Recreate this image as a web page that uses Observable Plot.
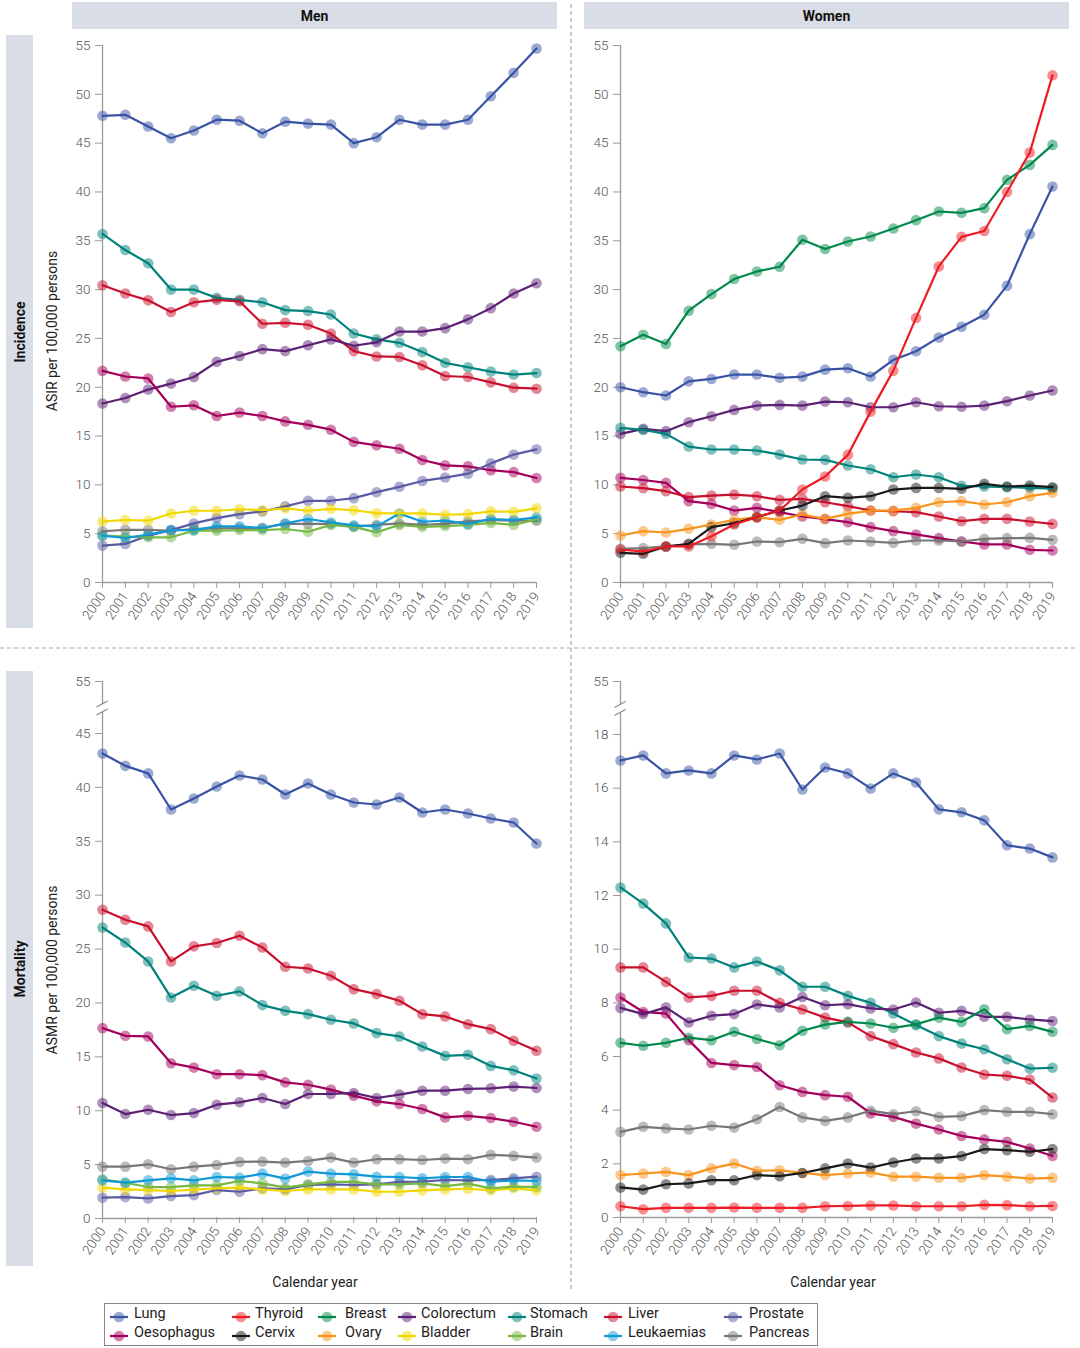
<!DOCTYPE html>
<html><head><meta charset="utf-8">
<script src="https://cdn.jsdelivr.net/npm/d3@7"></script>
<script src="https://cdn.jsdelivr.net/npm/@observablehq/plot@0.6"></script>
<style>
body{margin:0;background:#fff;font-family:Roboto,"Liberation Sans",sans-serif;}
#root{position:relative;width:1080px;height:1348px;overflow:hidden;background:#fff;}
.hdr{position:absolute;background:#d9dde6;font-weight:700;font-size:14px;color:#111;display:flex;align-items:center;justify-content:center;}
.rowlab{position:absolute;background:#d9dde6;}
.rowlab span{position:absolute;left:50%;top:50%;transform:translate(-50%,-50%) rotate(-90deg);font-weight:700;font-size:14px;white-space:nowrap;color:#111;}
.vlabel{position:absolute;transform:translate(-50%,-50%) rotate(-90deg);font-size:14px;white-space:nowrap;color:#222;}
.xlabel{position:absolute;transform:translateX(-50%);font-size:14px;color:#222;white-space:nowrap;}
.panel{position:absolute;}
.legend{position:absolute;left:104px;top:1303px;width:714px;height:43px;border:1px solid #888;box-sizing:border-box;}
.lg{position:absolute;font-size:14.5px;color:#222;white-space:nowrap;line-height:16px;}
.sw{position:absolute;}
</style>
</head><body>
<div id="root"></div>
<script>
// ---------- categories, colours, ticks ----------
const years = [2000,2001,2002,2003,2004,2005,2006,2007,2008,2009,2010,2011,2012,2013,2014,2015,2016,2017,2018,2019];
const cancers = ["Lung","Thyroid","Breast","Colorectum","Stomach","Liver","Prostate","Oesophagus","Cervix","Ovary","Bladder","Brain","Leukaemias","Pancreas"];
const colors  = ["#3953a4","#ed1c24","#00894a","#5b1f74","#00827c","#c8102e","#5a5ba2","#a3005c","#1a1a1a","#f7941d","#f2d600","#76b843","#0f9ad6","#777777"];
const incTicks = [0,5,10,15,20,25,30,35,40,45,50,55];
const morMenTicks = [0,5,10,15,20,25,30,35,40,45,55];
const morWomenTicks = [0,2,4,6,8,10,12,14,16,18,55];

// ---------- Incidence, men (ASIR per 100,000) ----------
const inc_m_lung = [47.8,47.9,46.7,45.5,46.3,47.4,47.3,46.0,47.2,47.0,46.9,45.0,45.6,47.4,46.9,46.9,47.4,49.8,52.2,54.7];
const inc_m_stomach = [35.7,34.05,32.7,30.0,30.0,29.15,28.95,28.7,27.9,27.8,27.45,25.5,24.9,24.55,23.6,22.5,22.05,21.6,21.3,21.45];
const inc_m_liver = [30.45,29.6,28.9,27.7,28.7,28.95,28.8,26.5,26.6,26.4,25.5,23.7,23.15,23.1,22.25,21.15,21.05,20.5,19.95,19.85];
const inc_m_colorectum = [18.33,18.9,19.76,20.37,21.05,22.6,23.2,23.9,23.7,24.3,24.9,24.25,24.6,25.7,25.7,26.05,26.95,28.1,29.6,30.65];
const inc_m_oesophagus = [21.67,21.1,20.9,18.0,18.15,17.05,17.4,17.05,16.5,16.15,15.65,14.4,14.05,13.7,12.55,12.0,11.9,11.5,11.3,10.7];
const inc_m_prostate = [3.78,3.95,4.8,5.37,6.05,6.6,7.0,7.28,7.8,8.37,8.37,8.64,9.25,9.8,10.4,10.75,11.15,12.2,13.1,13.64];
const inc_m_bladder = [6.26,6.4,6.33,7.07,7.35,7.35,7.5,7.4,7.6,7.35,7.55,7.4,7.1,7.07,7.07,6.94,7.0,7.28,7.24,7.6];
const inc_m_pancreas = [5.24,5.4,5.4,5.3,5.48,5.54,5.58,5.58,6.0,6.0,6.0,5.7,5.9,6.05,5.9,6.0,6.26,6.4,6.33,6.33];
const inc_m_leukaemias = [4.8,4.56,4.9,5.37,5.37,5.75,5.75,5.58,6.05,6.5,6.15,5.85,5.75,7.07,6.22,6.33,6.0,6.5,6.4,6.67];
const inc_m_brain = [4.8,4.7,4.63,4.63,5.3,5.3,5.37,5.37,5.48,5.2,5.9,5.7,5.14,5.9,5.7,5.78,5.9,6.1,5.9,6.46];

// ---------- Incidence, women ----------
const inc_w_breast = [24.2,25.38,24.43,27.84,29.54,31.08,31.86,32.34,35.1,34.15,34.93,35.44,36.26,37.11,38.0,37.86,38.34,41.24,42.77,44.82];
const inc_w_thyroid = [3.38,3.17,3.69,3.69,4.74,5.94,6.69,7.37,9.52,10.85,13.07,17.5,21.7,27.1,32.37,35.4,36.0,40.0,44.03,51.94];
const inc_w_lung = [20.0,19.49,19.15,20.6,20.85,21.3,21.3,20.96,21.09,21.8,21.94,21.1,22.8,23.68,25.1,26.2,27.43,30.4,35.68,40.56];
const inc_w_colorectum = [15.22,15.73,15.5,16.42,17.03,17.68,18.12,18.19,18.12,18.53,18.46,17.95,17.95,18.46,18.05,18.0,18.12,18.57,19.15,19.66];
const inc_w_stomach = [15.84,15.63,15.22,13.92,13.62,13.62,13.52,13.1,12.6,12.56,11.98,11.6,10.78,11.06,10.78,9.9,9.83,9.76,9.7,9.62];
const inc_w_oesophagus = [10.72,10.5,10.2,8.33,8.05,7.37,7.65,7.2,6.76,6.5,6.18,5.67,5.26,4.92,4.54,4.2,3.9,3.9,3.35,3.28];
const inc_w_liver = [9.83,9.66,9.35,8.74,8.9,9.0,8.84,8.46,8.57,8.22,7.82,7.37,7.3,7.2,6.76,6.28,6.52,6.52,6.25,6.0];
const inc_w_cervix = [3.04,2.94,3.69,3.96,5.67,6.07,6.69,7.37,7.88,8.84,8.67,8.84,9.52,9.69,9.69,9.59,10.1,9.83,9.93,9.76];
const inc_w_ovary = [4.81,5.26,5.12,5.5,5.94,6.42,6.69,6.42,6.96,6.52,7.03,7.37,7.37,7.65,8.22,8.33,7.99,8.22,8.84,9.18];
const inc_w_pancreas = [3.45,3.52,3.69,3.89,3.96,3.86,4.2,4.13,4.47,4.03,4.3,4.2,4.06,4.3,4.3,4.2,4.47,4.54,4.57,4.37];

// ---------- Mortality, men (ASMR per 100,000) ----------
const mor_m_lung = [43.14,42.0,41.3,37.95,38.97,40.08,41.1,40.73,39.34,40.36,39.34,38.6,38.41,39.06,37.67,37.95,37.58,37.11,36.74,34.79];
const mor_m_liver = [28.65,27.72,27.1,23.85,25.25,25.56,26.24,25.15,23.36,23.2,22.52,21.28,20.82,20.2,18.96,18.75,18.03,17.57,16.49,15.56];
const mor_m_stomach = [27.0,25.6,23.85,20.5,21.6,20.67,21.07,19.8,19.27,18.96,18.44,18.1,17.2,16.89,15.96,15.09,15.19,14.16,13.76,12.99];
const mor_m_oesophagus = [17.66,16.95,16.89,14.41,14.0,13.39,13.39,13.3,12.63,12.41,11.96,11.4,10.87,10.62,10.16,9.38,9.53,9.32,8.98,8.51];
const mor_m_colorectum = [10.71,9.69,10.09,9.6,9.78,10.56,10.78,11.18,10.62,11.55,11.55,11.65,11.18,11.49,11.86,11.86,12.02,12.08,12.24,12.11];
const mor_m_pancreas = [4.81,4.81,5.03,4.57,4.81,4.97,5.25,5.28,5.19,5.34,5.65,5.19,5.5,5.5,5.43,5.56,5.5,5.9,5.81,5.65];
const mor_m_leukaemias = [3.54,3.32,3.54,3.73,3.54,3.85,3.79,4.16,3.7,4.35,4.16,4.1,3.88,3.85,3.73,3.85,3.85,3.42,3.54,3.48];
const mor_m_brain = [3.63,3.32,2.92,2.92,3.07,3.07,3.48,3.26,2.86,3.17,3.39,3.39,3.17,3.17,3.26,3.01,3.23,2.8,2.95,2.92];
const mor_m_bladder = [2.86,2.7,2.64,2.55,2.67,2.8,2.86,2.7,2.55,2.7,2.7,2.7,2.48,2.48,2.61,2.7,2.76,2.61,2.8,2.61];
const mor_m_prostate = [1.93,1.99,1.86,2.08,2.17,2.64,2.48,2.8,2.7,3.11,3.17,3.11,3.17,3.39,3.42,3.57,3.54,3.57,3.73,3.88];

// ---------- Mortality, women ----------
const mor_w_lung = [17.03,17.22,16.55,16.66,16.55,17.22,17.07,17.29,15.95,16.77,16.55,15.99,16.55,16.21,15.21,15.1,14.8,13.87,13.75,13.42];
const mor_w_stomach = [12.3,11.7,10.96,9.69,9.65,9.32,9.54,9.21,8.6,8.6,8.26,8.0,7.6,7.17,6.76,6.48,6.27,5.9,5.55,5.58];
const mor_w_liver = [9.32,9.32,8.78,8.2,8.26,8.45,8.45,8.0,7.75,7.45,7.27,6.76,6.46,6.15,5.93,5.59,5.33,5.28,5.14,4.47];
const mor_w_oesophagus = [8.2,7.66,7.6,6.61,5.76,5.68,5.61,4.93,4.68,4.56,4.5,3.88,3.75,3.5,3.28,3.04,2.91,2.82,2.57,2.29];
const mor_w_colorectum = [7.81,7.58,7.83,7.27,7.52,7.58,7.94,7.83,8.22,7.91,7.95,7.79,7.75,8.01,7.63,7.7,7.48,7.48,7.38,7.32];
const mor_w_breast = [6.51,6.4,6.51,6.7,6.61,6.92,6.65,6.42,6.96,7.19,7.29,7.23,7.07,7.2,7.45,7.29,7.76,7.02,7.14,6.92];
const mor_w_pancreas = [3.19,3.38,3.32,3.28,3.42,3.35,3.66,4.12,3.73,3.6,3.73,3.98,3.85,3.96,3.75,3.78,4.0,3.94,3.94,3.85];
const mor_w_cervix = [1.12,1.04,1.24,1.27,1.39,1.39,1.58,1.54,1.66,1.83,2.01,1.86,2.05,2.2,2.2,2.29,2.55,2.51,2.45,2.55];
const mor_w_ovary = [1.58,1.64,1.7,1.58,1.83,2.01,1.74,1.76,1.66,1.58,1.64,1.68,1.52,1.52,1.48,1.48,1.58,1.52,1.45,1.48];
const mor_w_thyroid = [0.42,0.31,0.36,0.36,0.36,0.37,0.36,0.36,0.36,0.42,0.43,0.45,0.45,0.42,0.42,0.42,0.47,0.46,0.42,0.43];

// ---------- legend layout (row order) ----------
const legendRow1 = ["Lung","Thyroid","Breast","Colorectum","Stomach","Liver","Prostate"];
const legendRow2 = ["Oesophagus","Cervix","Ovary","Bladder","Brain","Leukaemias","Pancreas"];

// ---------- build ----------
const root = document.getElementById("root");
function el(tag, cls, style, text) {
  const e = document.createElement(tag);
  if (cls) e.className = cls;
  Object.assign(e.style, style || {});
  if (text != null) e.textContent = text;
  root.appendChild(e);
  return e;
}

el("div","hdr",{left:"72px",top:"2px",width:"485px",height:"27px"},"Men");
el("div","hdr",{left:"584px",top:"2px",width:"485px",height:"27px"},"Women");
el("div","rowlab",{left:"6px",top:"35px",width:"27px",height:"593px"}).innerHTML = "<span>Incidence</span>";
el("div","rowlab",{left:"6px",top:"671px",width:"27px",height:"595px"}).innerHTML = "<span>Mortality</span>";

const panels = [
  {left:40, top:30, xr:[62,496], ydom:[0,55], yr:[552,15], ticks:incTicks, brk:null,
   series:[["Lung",inc_m_lung],["Stomach",inc_m_stomach],["Liver",inc_m_liver],["Colorectum",inc_m_colorectum],["Oesophagus",inc_m_oesophagus],["Prostate",inc_m_prostate],["Pancreas",inc_m_pancreas],["Brain",inc_m_brain],["Leukaemias",inc_m_leukaemias],["Bladder",inc_m_bladder]]},
  {left:558, top:30, xr:[62,494], ydom:[0,55], yr:[552,15], ticks:incTicks, brk:null,
   series:[["Breast",inc_w_breast],["Lung",inc_w_lung],["Colorectum",inc_w_colorectum],["Stomach",inc_w_stomach],["Oesophagus",inc_w_oesophagus],["Liver",inc_w_liver],["Pancreas",inc_w_pancreas],["Ovary",inc_w_ovary],["Cervix",inc_w_cervix],["Thyroid",inc_w_thyroid]]},
  {left:40, top:665, xr:[62,496], ydom:[0,45,55], yr:[553,68,16], ticks:morMenTicks, brk:45,
   series:[["Lung",mor_m_lung],["Liver",mor_m_liver],["Stomach",mor_m_stomach],["Oesophagus",mor_m_oesophagus],["Colorectum",mor_m_colorectum],["Pancreas",mor_m_pancreas],["Prostate",mor_m_prostate],["Bladder",mor_m_bladder],["Brain",mor_m_brain],["Leukaemias",mor_m_leukaemias]]},
  {left:558, top:665, xr:[62,494], ydom:[0,18,55], yr:[552,69,16], ticks:morWomenTicks, brk:18,
   series:[["Lung",mor_w_lung],["Stomach",mor_w_stomach],["Liver",mor_w_liver],["Oesophagus",mor_w_oesophagus],["Colorectum",mor_w_colorectum],["Breast",mor_w_breast],["Pancreas",mor_w_pancreas],["Ovary",mor_w_ovary],["Cervix",mor_w_cervix],["Thyroid",mor_w_thyroid]]}
];

for (const p of panels) {
  const data = [];
  for (const [name, vals] of p.series) vals.forEach((v, i) => data.push({cancer: name, year: years[i], value: v}));
  const plot = Plot.plot({
    width: 520, height: 610,
    marginLeft: 62, marginRight: 24, marginTop: 15, marginBottom: 58,
    style: {fontFamily: "Roboto, 'Liberation Sans', sans-serif", background: "transparent", overflow: "visible"},
    x: {type: "linear", domain: [2000, 2019], range: p.xr, axis: null, label: null},
    y: {type: "linear", domain: p.ydom, range: p.yr, axis: null, label: null},
    color: {domain: cancers, range: colors},
    marks: [
      Plot.ruleX([2000], {y1: 0, y2: 55, stroke: "#9a9a9a", strokeWidth: 1.3}),
      Plot.ruleY([0], {x1: 2000, x2: 2019, stroke: "#9a9a9a", strokeWidth: 1.3}),
      Plot.axisY(p.ticks, {anchor: "left", tickSize: 7, tickPadding: 5, stroke: "#9a9a9a", fill: "#555", fontSize: 13.5, fontWeight: 300, label: null}),
      Plot.axisX(years, {anchor: "bottom", tickSize: 6, tickPadding: 5, tickRotate: -56, textAnchor: "end", tickFormat: d => String(d), stroke: "#9a9a9a", fill: "#555", fontSize: 13.5, fontWeight: 300, label: null}),
      Plot.dot(data, {x: "year", y: "value", fill: "cancer", r: 5.3, fillOpacity: 0.5, stroke: null}),
      Plot.line(data, {x: "year", y: "value", z: "cancer", stroke: "cancer", strokeWidth: 2.2})
    ]
  });
  const wrap = el("div", "panel", {left: p.left + "px", top: p.top + "px"});
  wrap.appendChild(plot);
  if (p.brk != null) {
    const ys = plot.scale("y"), xs = plot.scale("x");
    const x0 = xs.apply(2000);
    const yc = (ys.apply(p.brk) + ys.apply(55)) / 2 + 1;
    const g = d3.select(plot).append("g");
    g.append("rect").attr("x", x0 - 3).attr("y", yc - 4).attr("width", 6).attr("height", 8).attr("fill", "#fff");
    for (const o of [-4, 4]) {
      g.append("line").attr("x1", x0 - 5.5).attr("y1", yc + o + 3).attr("x2", x0 + 5.5).attr("y2", yc + o - 3)
        .attr("stroke", "#888").attr("stroke-width", 1.1);
    }
  }
}

// axis titles
el("div","vlabel",{left:"52px",top:"331px"},"ASIR per 100,000 persons");
el("div","vlabel",{left:"52px",top:"970px"},"ASMR per 100,000 persons");
el("div","xlabel",{left:"315px",top:"1274px"},"Calendar year");
el("div","xlabel",{left:"833px",top:"1274px"},"Calendar year");

// dashed separators
const ns = "http://www.w3.org/2000/svg";
const ov = document.createElementNS(ns, "svg");
ov.setAttribute("width", 1080); ov.setAttribute("height", 1348);
Object.assign(ov.style, {position: "absolute", left: "0", top: "0", pointerEvents: "none"});
ov.innerHTML = '<line x1="571" y1="4" x2="571" y2="1292" stroke="#aaa" stroke-width="1.2" stroke-dasharray="4 3"/>' +
               '<line x1="0" y1="648" x2="1076" y2="648" stroke="#aaa" stroke-width="1.2" stroke-dasharray="4 3"/>';
root.appendChild(ov);

// legend
const lgBox = el("div","legend",{});
const markerX = [110,232,318,398,508,604,724];
const textX = [134,255,345,421,530,628,749];
const colorOf = name => colors[cancers.indexOf(name)];
[[legendRow1, 1314], [legendRow2, 1333]].forEach(([row, cy]) => {
  row.forEach((name, i) => {
    const c = colorOf(name);
    const s = el("div","sw",{left: markerX[i] + "px", top: (cy - 6) + "px", width: "18px", height: "12px"});
    s.innerHTML = `<svg width="18" height="12"><circle cx="9" cy="6" r="5.3" fill="${c}" fill-opacity="0.5"/><line x1="0" y1="6" x2="18" y2="6" stroke="${c}" stroke-width="2.2"/></svg>`;
    el("div","lg",{left: textX[i] + "px", top: (cy - 8.5) + "px"}, name);
  });
});
</script>
</body></html>
